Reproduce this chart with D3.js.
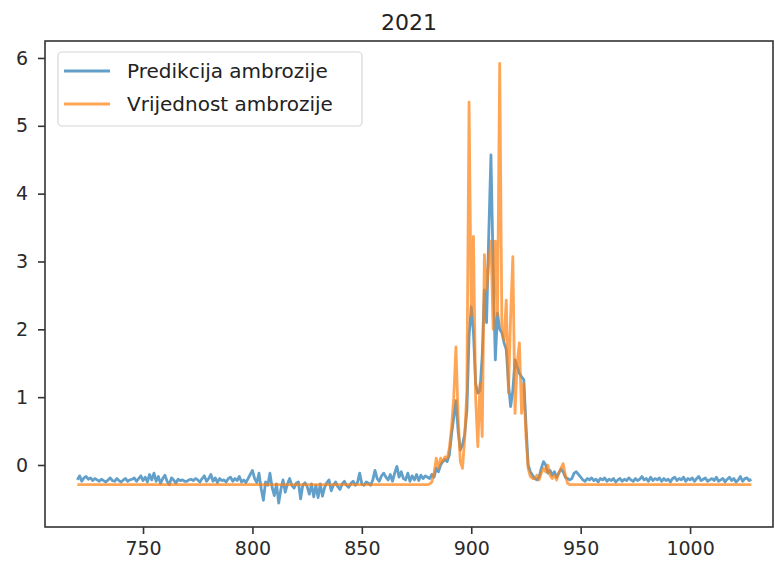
<!DOCTYPE html>
<html lang="hr">
<head>
    <meta charset="UTF-8">
    <title>2021</title>
    <script src="https://d3js.org/d3.v7.min.js"></script>
    <style>
        body { margin: 0; background: #fff; font-family: "DejaVu Sans", sans-serif; }
        .axis path, .axis line { stroke: #333; stroke-width: 1.6; }
        .axis text { fill: #2a2a2a; font-size: 19px; font-family: "DejaVu Sans", sans-serif; }
    </style>
</head>
<body>
    <svg width="775" height="567"></svg>
    <script>
        // dani: prvi dan serije, svaki sljedeci element je +1 dan
        const firstDay = 720;

        // predikcija ambrozije (plava)
        const predikcija = [
            -0.22, -0.16, -0.24, -0.19, -0.17, -0.21, -0.19, -0.23, -0.2, -0.22,
            -0.24, -0.21, -0.23, -0.25, -0.22, -0.19, -0.23, -0.24, -0.2, -0.23,
            -0.25, -0.22, -0.2, -0.24, -0.22, -0.21, -0.19, -0.24, -0.2, -0.16,
            -0.23, -0.18, -0.25, -0.14, -0.22, -0.12, -0.24, -0.17, -0.27, -0.2,
            -0.15, -0.24, -0.29, -0.19, -0.22, -0.27, -0.21, -0.23, -0.22, -0.24,
            -0.24, -0.22, -0.21, -0.23, -0.2, -0.22, -0.25, -0.2, -0.16, -0.24,
            -0.2, -0.14, -0.24, -0.19, -0.26, -0.2, -0.23, -0.22, -0.25, -0.2,
            -0.18, -0.24, -0.2, -0.23, -0.17, -0.25, -0.22, -0.26, -0.2, -0.14,
            -0.08, -0.2, -0.26, -0.12, -0.35, -0.52, -0.25, -0.3, -0.12, -0.33,
            -0.45, -0.28, -0.56, -0.36, -0.22, -0.4, -0.28, -0.2, -0.3, -0.34,
            -0.27, -0.25, -0.5, -0.3, -0.26, -0.32, -0.43, -0.28, -0.47, -0.3,
            -0.48, -0.28, -0.46, -0.33, -0.26, -0.22, -0.38, -0.3, -0.25, -0.32,
            -0.36, -0.28, -0.24, -0.3, -0.33, -0.27, -0.24, -0.3, -0.26, -0.12,
            -0.28, -0.3, -0.25, -0.27, -0.3, -0.22, -0.08, -0.2, -0.24, -0.16,
            -0.12, -0.18, -0.22, -0.14, -0.24, -0.12, -0.02, -0.18, -0.1, -0.2,
            -0.22, -0.12, -0.24, -0.16, -0.22, -0.14, -0.23, -0.15, -0.2, -0.16,
            -0.18, -0.2, -0.14, -0.18, -0.05, -0.1, 0.0, 0.05, 0.08, 0.05,
            0.15, 0.45, 0.7, 0.95, 0.5, 0.22, 0.3, 0.45, 0.8, 1.9,
            2.33, 1.95, 1.2, 1.06, 1.1, 1.6, 2.58, 2.1, 3.4, 4.57,
            2.9, 1.55, 2.24, 2.0, 1.95, 1.8, 1.7, 1.2, 0.86, 1.1,
            1.55, 1.45, 1.35, 1.3, 1.26, 0.6, 0.0, -0.1, -0.15, -0.2,
            -0.22, -0.18, -0.05, 0.05, 0.0, -0.12, -0.08, -0.15, -0.1, -0.18,
            -0.12, -0.06, -0.1, -0.18, -0.2, -0.22, -0.2, -0.12, -0.1, -0.14,
            -0.18, -0.22, -0.24, -0.2, -0.22, -0.19, -0.23, -0.21, -0.25, -0.2,
            -0.22, -0.19, -0.24, -0.21, -0.23, -0.2, -0.25, -0.22, -0.2, -0.24,
            -0.21, -0.23, -0.19, -0.22, -0.24, -0.2, -0.23, -0.21, -0.17, -0.22,
            -0.2, -0.24, -0.18, -0.23, -0.2, -0.22, -0.19, -0.24, -0.2, -0.23,
            -0.21, -0.25, -0.2, -0.18, -0.23, -0.2, -0.22, -0.18, -0.24, -0.2,
            -0.22, -0.19, -0.24, -0.2, -0.17, -0.23, -0.21, -0.19, -0.24, -0.22,
            -0.2, -0.23, -0.18, -0.24, -0.22, -0.2, -0.25, -0.21, -0.18, -0.23,
            -0.2, -0.25, -0.22, -0.17, -0.24, -0.2, -0.19, -0.23, -0.21
        ];

        // izmjerena vrijednost ambrozije (narancasta)
        const vrijednost = [
            -0.29, -0.29, -0.29, -0.29, -0.29, -0.29, -0.29, -0.29, -0.29, -0.29,
            -0.29, -0.29, -0.29, -0.29, -0.29, -0.29, -0.29, -0.29, -0.29, -0.29,
            -0.29, -0.29, -0.29, -0.29, -0.29, -0.29, -0.29, -0.29, -0.29, -0.29,
            -0.29, -0.29, -0.29, -0.29, -0.29, -0.29, -0.29, -0.29, -0.29, -0.29,
            -0.29, -0.29, -0.29, -0.29, -0.29, -0.29, -0.29, -0.29, -0.29, -0.29,
            -0.29, -0.29, -0.29, -0.29, -0.29, -0.29, -0.29, -0.29, -0.29, -0.29,
            -0.29, -0.29, -0.29, -0.29, -0.29, -0.29, -0.29, -0.29, -0.29, -0.29,
            -0.29, -0.29, -0.29, -0.29, -0.29, -0.29, -0.29, -0.29, -0.29, -0.29,
            -0.29, -0.29, -0.29, -0.29, -0.29, -0.29, -0.29, -0.29, -0.29, -0.29,
            -0.29, -0.29, -0.29, -0.29, -0.29, -0.29, -0.29, -0.29, -0.29, -0.29,
            -0.29, -0.29, -0.29, -0.29, -0.29, -0.29, -0.29, -0.29, -0.29, -0.29,
            -0.29, -0.29, -0.29, -0.29, -0.29, -0.29, -0.29, -0.29, -0.29, -0.29,
            -0.29, -0.29, -0.29, -0.29, -0.29, -0.29, -0.29, -0.29, -0.29, -0.29,
            -0.29, -0.29, -0.29, -0.29, -0.29, -0.29, -0.29, -0.29, -0.29, -0.29,
            -0.29, -0.29, -0.29, -0.29, -0.29, -0.29, -0.29, -0.29, -0.29, -0.29,
            -0.29, -0.29, -0.29, -0.29, -0.29, -0.29, -0.29, -0.29, -0.29, -0.29,
            -0.29, -0.28, -0.25, -0.12, 0.1, -0.05, 0.1, 0.05, 0.12, 0.1,
            0.25, 0.55, 1.0, 1.74, 0.7, 0.05, -0.05, 0.4, 1.1, 5.35,
            2.2, 3.37, 1.0, 0.27, 1.2, 0.42, 3.1, 2.58, 3.0, 3.3,
            2.0, 3.3, 2.2, 5.92, 2.04, 1.84, 2.43, 1.06, 2.2, 3.07,
            0.76, 1.5, 1.8, 0.76, 1.2, 0.42, -0.05, -0.17, -0.2, -0.2,
            -0.15, -0.22, -0.12, -0.05, -0.1, 0.0, -0.15, -0.2, -0.15, -0.22,
            -0.12, -0.05, 0.02, -0.15, -0.27, -0.29, -0.29, -0.29, -0.29, -0.29,
            -0.29, -0.29, -0.29, -0.29, -0.29, -0.29, -0.29, -0.29, -0.29, -0.29,
            -0.29, -0.29, -0.29, -0.29, -0.29, -0.29, -0.29, -0.29, -0.29, -0.29,
            -0.29, -0.29, -0.29, -0.29, -0.29, -0.29, -0.29, -0.29, -0.29, -0.29,
            -0.29, -0.29, -0.29, -0.29, -0.29, -0.29, -0.29, -0.29, -0.29, -0.29,
            -0.29, -0.29, -0.29, -0.29, -0.29, -0.29, -0.29, -0.29, -0.29, -0.29,
            -0.29, -0.29, -0.29, -0.29, -0.29, -0.29, -0.29, -0.29, -0.29, -0.29,
            -0.29, -0.29, -0.29, -0.29, -0.29, -0.29, -0.29, -0.29, -0.29, -0.29,
            -0.29, -0.29, -0.29, -0.29, -0.29, -0.29, -0.29, -0.29, -0.29
        ];

        const xTicks = [750, 800, 850, 900, 950, 1000];
        const yTicks = [0, 1, 2, 3, 4, 5, 6];
        const seriesNames = ["Predikcija ambrozije", "Vrijednost ambrozije"];
        const colors = ["#1f77b4", "#ff7f0e"];

        const svg = d3.select("svg");
        const mLeft = 45, mRight = 773, mTop = 41, mBottom = 527;

        const x = d3.scaleLinear().domain([705.2, 1037.9]).range([mLeft, mRight]);
        const y = d3.scaleLinear().domain([-0.914, 6.25]).range([mBottom, mTop]);

        // osi
        svg.append("g")
            .attr("class", "axis")
            .attr("transform", `translate(0,${mBottom})`)
            .call(d3.axisBottom(x).tickValues(xTicks).tickFormat(d3.format("d"))
                .tickSize(7).tickPadding(8).tickSizeOuter(0))
            .call(g => g.select(".domain").remove());

        svg.append("g")
            .attr("class", "axis")
            .attr("transform", `translate(${mLeft},0)`)
            .call(d3.axisLeft(y).tickValues(yTicks).tickSize(7).tickPadding(10).tickSizeOuter(0))
            .call(g => g.select(".domain").remove());

        // linije
        const line = d3.line()
            .x((d, i) => x(firstDay + i))
            .y(d => y(d));

        [predikcija, vrijednost].forEach((s, k) => {
            svg.append("path")
                .datum(s)
                .attr("fill", "none")
                .attr("stroke", colors[k])
                .attr("stroke-opacity", 0.7)
                .attr("stroke-width", 2.8)
                .attr("stroke-linejoin", "round")
                .attr("d", line);
        });

        // okvir
        svg.append("rect")
            .attr("x", mLeft).attr("y", mTop)
            .attr("width", mRight - mLeft).attr("height", mBottom - mTop)
            .attr("fill", "none")
            .attr("stroke", "#333")
            .attr("stroke-width", 1.6);

        // naslov
        svg.append("text")
            .attr("x", (mLeft + mRight) / 2)
            .attr("y", 30)
            .attr("text-anchor", "middle")
            .attr("fill", "#222")
            .style("font-size", "22px")
            .text("2021");

        // legenda
        const lg = svg.append("g");
        lg.append("rect")
            .attr("x", 58).attr("y", 52)
            .attr("width", 304).attr("height", 74)
            .attr("rx", 4)
            .attr("fill", "#fff").attr("fill-opacity", 0.8)
            .attr("stroke", "#d6d6d6").attr("stroke-width", 1.2);

        seriesNames.forEach((name, k) => {
            const cy = 71 + k * 33;
            lg.append("line")
                .attr("x1", 64).attr("x2", 110)
                .attr("y1", cy).attr("y2", cy)
                .attr("stroke", colors[k])
                .attr("stroke-opacity", 0.7)
                .attr("stroke-width", 2.8);
            lg.append("text")
                .attr("x", 127).attr("y", cy + 7)
                .attr("fill", "#222")
                .style("font-size", "20px")
                .text(name);
        });
    </script>
</body>
</html>
